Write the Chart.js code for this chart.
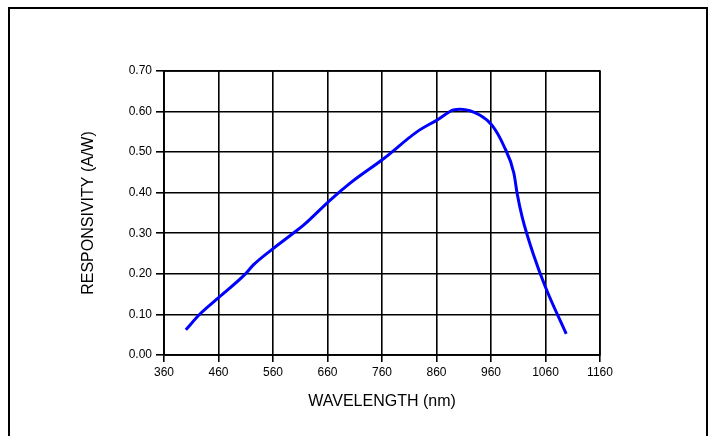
<!DOCTYPE html>
<html>
<head>
<meta charset="utf-8">
<script src="https://cdn.jsdelivr.net/npm/chart.js@4.4.1/dist/chart.umd.min.js"></script>
<style>
  html, body { margin: 0; padding: 0; background: #fff; }
  #wrap { position: relative; width: 708px; height: 436px; }
</style>
</head>
<body>
<div id="wrap"><canvas id="responseChart"></canvas></div>
<script>
// ================================
// DATA
// ================================
const wavelengths = [400, 426, 459, 508, 524, 559, 597, 616, 665, 701, 764, 824,
  862, 891, 904, 940, 962, 983, 1002, 1008, 1017, 1038, 1060, 1098];
const responsivity = [0.062, 0.101, 0.140, 0.198, 0.222, 0.261, 0.300, 0.320, 0.382,
  0.423, 0.485, 0.550, 0.580, 0.604, 0.606, 0.591, 0.566, 0.517, 0.448, 0.398,
  0.341, 0.247, 0.167, 0.052];
const xTicks = [360, 460, 560, 660, 760, 860, 960, 1060, 1160];
const yTicks = [0, 0.1, 0.2, 0.3, 0.4, 0.5, 0.6, 0.7];

const points = wavelengths.map((w, i) => ({ x: w, y: responsivity[i] }));

// outer frame round the whole figure
const framePlugin = {
  id: "frame",
  beforeDraw(chart) {
    const ctx = chart.ctx;
    ctx.save();
    ctx.strokeStyle = "#000";
    ctx.lineWidth = 2;
    ctx.strokeRect(9, 8, 698, 450);
    ctx.restore();
  }
};

// plot box border (top and right sides)
const boxPlugin = {
  id: "box",
  afterDatasetsDraw(chart) {
    const a = chart.chartArea;
    const ctx = chart.ctx;
    ctx.save();
    ctx.strokeStyle = "#000";
    ctx.lineWidth = 1.6;
    ctx.strokeRect(a.left, a.top, a.right - a.left, a.bottom - a.top);
    ctx.restore();
  }
};

Chart.defaults.font.family = "'Liberation Sans', Arial, sans-serif";
Chart.defaults.color = "#000";

new Chart(document.getElementById("responseChart"), {
  type: "line",
  data: {
    datasets: [{
      data: points,
      borderColor: "#0000ff",
      borderWidth: 3,
      pointRadius: 0,
      fill: false,
      cubicInterpolationMode: "monotone"
    }]
  },
  plugins: [framePlugin, boxPlugin],
  options: {
    responsive: true,
    maintainAspectRatio: false,
    animation: false,
    layout: {
      padding: { left: 8, top: 71, right: 108, bottom: 0 }
    },
    plugins: {
      legend: { display: false },
      tooltip: { enabled: false }
    },
    scales: {
      x: {
        type: "linear",
        min: xTicks[0],
        max: xTicks[xTicks.length - 1],
        afterBuildTicks: axis => { axis.ticks = xTicks.map(v => ({ value: v })); },
        afterFit: axis => { axis.height = 81; },
        grid: { color: "#000", lineWidth: 1.6, tickLength: 7 },
        border: { color: "#000", width: 1.6 },
        ticks: {
          font: { size: 12 },
          padding: 3,
          maxRotation: 0,
          callback: value => String(value)
        },
        title: {
          display: true,
          text: "WAVELENGTH (nm)",
          font: { size: 16 },
          padding: { top: 0, bottom: 25 }
        }
      },
      y: {
        min: 0,
        max: 0.7,
        afterBuildTicks: axis => { axis.ticks = yTicks.map(v => ({ value: v })); },
        afterFit: axis => { axis.width = 156; },
        grid: { color: "#000", lineWidth: 1.6, tickLength: 8 },
        border: { color: "#000", width: 1.6 },
        ticks: {
          font: { size: 12 },
          padding: 4,
          callback: value => Number(value).toFixed(2)
        },
        title: {
          display: true,
          text: "RESPONSIVITY (A/W)",
          font: { size: 16 },
          padding: { top: 71, bottom: 0 }
        }
      }
    }
  }
});
</script>
</body>
</html>
